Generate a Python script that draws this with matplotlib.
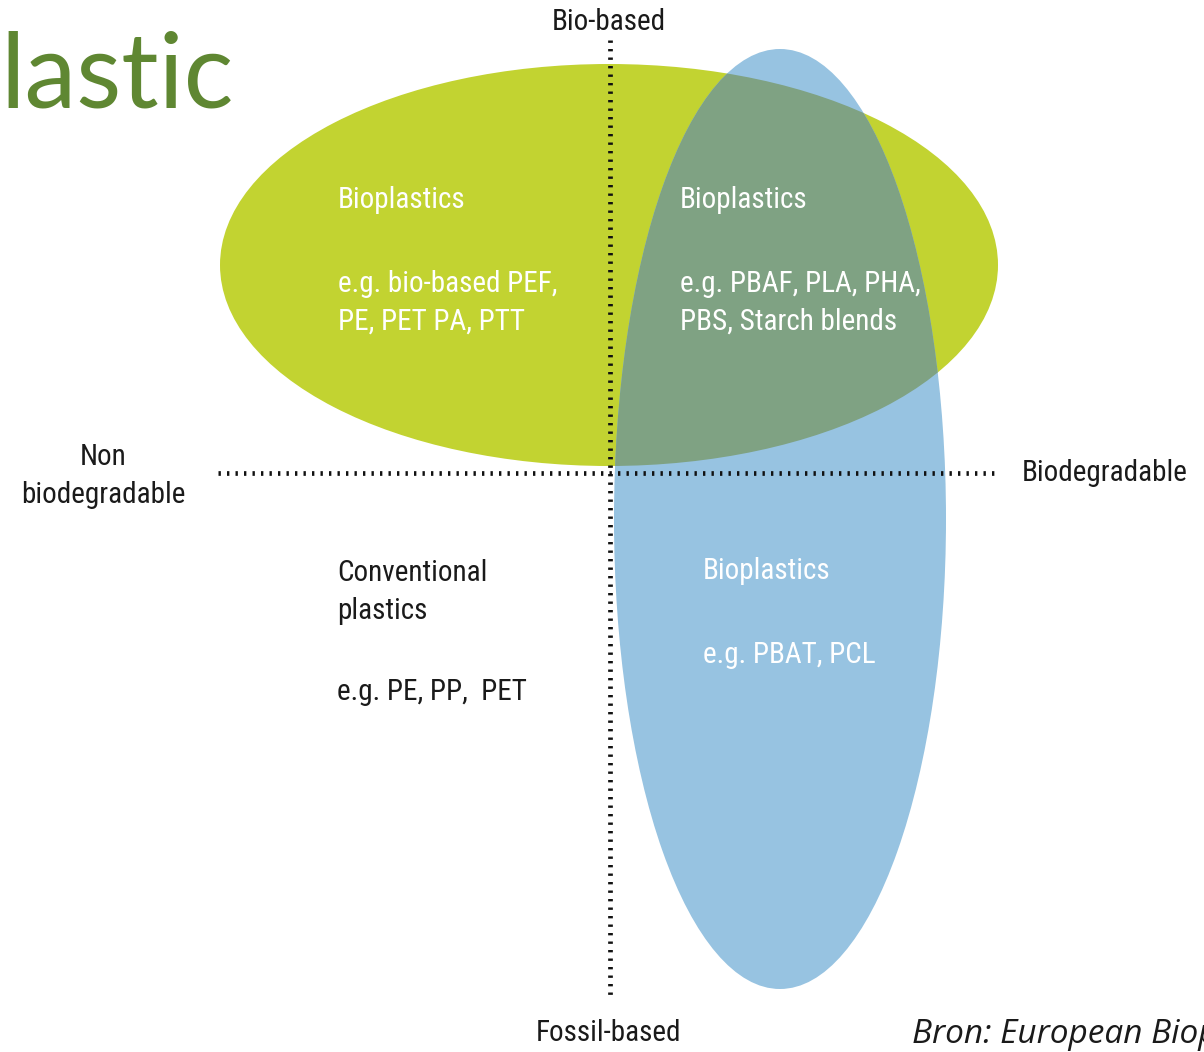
import matplotlib
matplotlib.use("Agg")
from matplotlib import pyplot as plt
from matplotlib.patches import Ellipse

# labels of the diagram
axis_labels = ['Bio-based', 'Fossil-based', 'Non\nbiodegradable', 'Biodegradable']
quad_titles = ['Bioplastics', 'Bioplastics', 'Bioplastics', 'Conventional\nplastics']
quad_examples = ['e.g. bio-based PEF,\nPE, PET PA, PTT',
                 'e.g. PBAF, PLA, PHA,\nPBS, Starch blends',
                 'e.g. PBAT, PCL',
                 'e.g. PE, PP,  PET']
title_txt = 'lastic'
source_txt = 'Bron: European Bioplastics'

GREEN = '#c2d331'
BLUE = '#97c3e1'
OVERLAP = '#7fa283'
DARK = '#1a1a1a'

FONT = ['Liberation Sans Narrow', 'Roboto Condensed', 'DejaVu Sans']

fig = plt.figure(figsize=(12.04, 10.52), dpi=100)
ax = fig.add_axes([0, 0, 1, 1])
ax.set_xlim(0, 1204)
ax.set_ylim(1052, 0)
ax.axis('off')

# ellipses (pixel units)
green = Ellipse((609, 265), 778, 402, color=GREEN, lw=0, zorder=1)
blue = Ellipse((780, 519), 332, 940, color=BLUE, lw=0, zorder=2)
both = Ellipse((780, 519), 332, 940, color=OVERLAP, lw=0, zorder=3)
ax.add_patch(green)
ax.add_patch(blue)
ax.add_patch(both)
both.set_clip_path(green)

# dotted axes
dots = (0, (0.5, 1.3))
ax.plot([218, 996], [473, 473], color='#111111', lw=3.4, ls=dots, zorder=4)
ax.plot([610, 610], [40, 998], color='#111111', lw=3.4, ls=dots, zorder=4)

fs = 21
ls = 1.42
ax.text(609, 22, axis_labels[0], ha='center', va='center', fontsize=fs, family=FONT, stretch='condensed', color=DARK)
ax.text(609, 1033, axis_labels[1], ha='center', va='center', fontsize=fs, family=FONT, stretch='condensed', color=DARK)
ax.text(103, 476, axis_labels[2], ha='center', va='center', fontsize=fs, family=FONT, stretch='condensed', color=DARK, linespacing=ls)
ax.text(1022, 473, axis_labels[3], ha='left', va='center', fontsize=fs, family=FONT, stretch='condensed', color=DARK)

# quadrant texts
tx = [338, 680, 703, 337]
ty = [200, 200, 571, 592]
ey = [303, 303, 655, 692]
tcol = ['white', 'white', 'white', DARK]
for i in range(4):
    ax.text(tx[i], ty[i], quad_titles[i], ha='left', va='center', fontsize=fs, family=FONT,
            stretch='condensed', color=tcol[i], linespacing=ls, zorder=5)
    ax.text(tx[i], ey[i], quad_examples[i], ha='left', va='center', fontsize=fs, family=FONT,
            stretch='condensed', color=tcol[i], linespacing=ls, zorder=5)

ax.text(0, 78, title_txt, ha='left', va='center', fontsize=75, family=['Lato', 'DejaVu Sans'], color='#5f8732')
ax.text(912, 1043, source_txt, ha='left', va='baseline', fontsize=24, family=['Open Sans', 'DejaVu Sans'],
        style='italic', color=DARK)

fig.savefig('out.png', dpi=100)
